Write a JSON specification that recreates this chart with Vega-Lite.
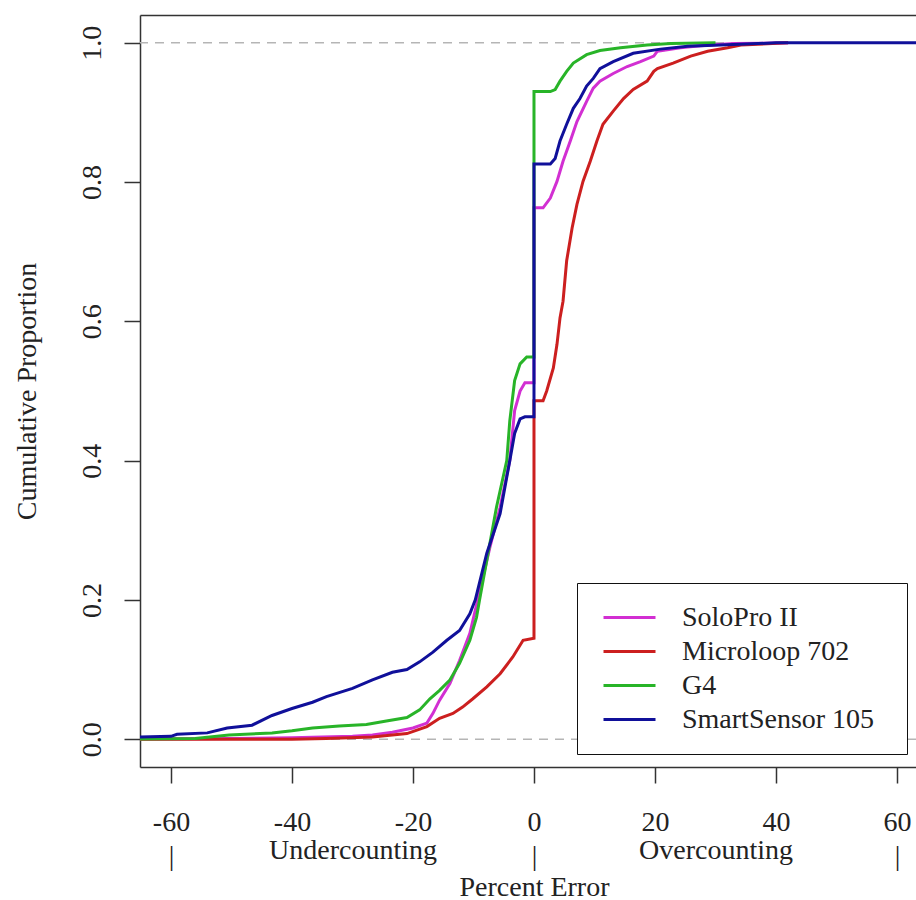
{
  "$schema": "https://vega.github.io/schema/vega-lite/v6.json",
  "width": 776,
  "height": 752,
  "autosize": "none",
  "padding": {"left": 140, "top": 15, "right": 0, "bottom": 133},
  "background": "white",
  "config": {
    "view": {"stroke": null},
    "font": "Liberation Serif",
    "axis": {"labelFont": "Liberation Serif", "titleFont": "Liberation Serif", "labelFontSize": 28, "titleFontSize": 28, "labelColor": "#222", "titleColor": "#222", "titleFontWeight": "normal", "domainColor": "#333", "tickColor": "#333", "domainWidth": 1.5, "tickWidth": 1.5, "grid": false}
  },
  "datasets": {
    "ecdf": [
      {"device":"SoloPro II","i":0,"x":-66,"p":0},
      {"device":"SoloPro II","i":1,"x":-50,"p":0.001},
      {"device":"SoloPro II","i":2,"x":-40,"p":0.002},
      {"device":"SoloPro II","i":3,"x":-30,"p":0.004},
      {"device":"SoloPro II","i":4,"x":-26.7,"p":0.006},
      {"device":"SoloPro II","i":5,"x":-23.4,"p":0.01},
      {"device":"SoloPro II","i":6,"x":-20,"p":0.016},
      {"device":"SoloPro II","i":7,"x":-17.7,"p":0.023},
      {"device":"SoloPro II","i":8,"x":-16.7,"p":0.037},
      {"device":"SoloPro II","i":9,"x":-15.6,"p":0.056},
      {"device":"SoloPro II","i":10,"x":-13.9,"p":0.08},
      {"device":"SoloPro II","i":11,"x":-12.3,"p":0.113},
      {"device":"SoloPro II","i":12,"x":-10.6,"p":0.152},
      {"device":"SoloPro II","i":13,"x":-9.3,"p":0.2},
      {"device":"SoloPro II","i":14,"x":-7.3,"p":0.275},
      {"device":"SoloPro II","i":15,"x":-5.6,"p":0.333},
      {"device":"SoloPro II","i":16,"x":-4,"p":0.4},
      {"device":"SoloPro II","i":17,"x":-3.2,"p":0.472},
      {"device":"SoloPro II","i":18,"x":-2.3,"p":0.5},
      {"device":"SoloPro II","i":19,"x":-1.5,"p":0.512},
      {"device":"SoloPro II","i":20,"x":0,"p":0.512},
      {"device":"SoloPro II","i":21,"x":0,"p":0.763},
      {"device":"SoloPro II","i":22,"x":1.5,"p":0.763},
      {"device":"SoloPro II","i":23,"x":2.7,"p":0.777},
      {"device":"SoloPro II","i":24,"x":3.8,"p":0.801},
      {"device":"SoloPro II","i":25,"x":4.8,"p":0.83},
      {"device":"SoloPro II","i":26,"x":6,"p":0.859},
      {"device":"SoloPro II","i":27,"x":7.1,"p":0.887},
      {"device":"SoloPro II","i":28,"x":8.7,"p":0.916},
      {"device":"SoloPro II","i":29,"x":9.8,"p":0.935},
      {"device":"SoloPro II","i":30,"x":10.9,"p":0.945},
      {"device":"SoloPro II","i":31,"x":13.1,"p":0.956},
      {"device":"SoloPro II","i":32,"x":15.4,"p":0.966},
      {"device":"SoloPro II","i":33,"x":17.6,"p":0.973},
      {"device":"SoloPro II","i":34,"x":19.8,"p":0.981},
      {"device":"SoloPro II","i":35,"x":20.4,"p":0.988},
      {"device":"SoloPro II","i":36,"x":24.2,"p":0.993},
      {"device":"SoloPro II","i":37,"x":27.5,"p":0.996},
      {"device":"SoloPro II","i":38,"x":33,"p":0.999},
      {"device":"SoloPro II","i":39,"x":42,"p":1.0},

      {"device":"Microloop 702","i":0,"x":-66,"p":0},
      {"device":"Microloop 702","i":1,"x":-40,"p":0},
      {"device":"Microloop 702","i":2,"x":-34.3,"p":0.001},
      {"device":"Microloop 702","i":3,"x":-26.7,"p":0.003},
      {"device":"Microloop 702","i":4,"x":-21,"p":0.008},
      {"device":"Microloop 702","i":5,"x":-17.7,"p":0.018},
      {"device":"Microloop 702","i":6,"x":-15.6,"p":0.03},
      {"device":"Microloop 702","i":7,"x":-13.4,"p":0.037},
      {"device":"Microloop 702","i":8,"x":-11.8,"p":0.046},
      {"device":"Microloop 702","i":9,"x":-10.1,"p":0.058},
      {"device":"Microloop 702","i":10,"x":-7.8,"p":0.075},
      {"device":"Microloop 702","i":11,"x":-5.6,"p":0.094},
      {"device":"Microloop 702","i":12,"x":-3.5,"p":0.118},
      {"device":"Microloop 702","i":13,"x":-1.8,"p":0.142},
      {"device":"Microloop 702","i":14,"x":0,"p":0.145},
      {"device":"Microloop 702","i":15,"x":0,"p":0.486},
      {"device":"Microloop 702","i":16,"x":1.5,"p":0.486},
      {"device":"Microloop 702","i":17,"x":2.1,"p":0.5},
      {"device":"Microloop 702","i":18,"x":3.2,"p":0.533},
      {"device":"Microloop 702","i":19,"x":3.8,"p":0.567},
      {"device":"Microloop 702","i":20,"x":4.3,"p":0.605},
      {"device":"Microloop 702","i":21,"x":4.8,"p":0.629},
      {"device":"Microloop 702","i":22,"x":5.4,"p":0.687},
      {"device":"Microloop 702","i":23,"x":6.3,"p":0.734},
      {"device":"Microloop 702","i":24,"x":7.1,"p":0.768},
      {"device":"Microloop 702","i":25,"x":8.1,"p":0.801},
      {"device":"Microloop 702","i":26,"x":9.3,"p":0.83},
      {"device":"Microloop 702","i":27,"x":10.4,"p":0.859},
      {"device":"Microloop 702","i":28,"x":11.4,"p":0.883},
      {"device":"Microloop 702","i":29,"x":13.1,"p":0.902},
      {"device":"Microloop 702","i":30,"x":14.8,"p":0.92},
      {"device":"Microloop 702","i":31,"x":16.4,"p":0.933},
      {"device":"Microloop 702","i":32,"x":18.7,"p":0.945},
      {"device":"Microloop 702","i":33,"x":19.8,"p":0.959},
      {"device":"Microloop 702","i":34,"x":20.4,"p":0.963},
      {"device":"Microloop 702","i":35,"x":23,"p":0.971},
      {"device":"Microloop 702","i":36,"x":25.9,"p":0.981},
      {"device":"Microloop 702","i":37,"x":28.7,"p":0.988},
      {"device":"Microloop 702","i":38,"x":32,"p":0.993},
      {"device":"Microloop 702","i":39,"x":34.2,"p":0.997},
      {"device":"Microloop 702","i":40,"x":42,"p":1.0},

      {"device":"G4","i":0,"x":-66,"p":0},
      {"device":"G4","i":1,"x":-56,"p":0.001},
      {"device":"G4","i":2,"x":-50.4,"p":0.006},
      {"device":"G4","i":3,"x":-43.3,"p":0.009},
      {"device":"G4","i":4,"x":-40,"p":0.012},
      {"device":"G4","i":5,"x":-36.6,"p":0.016},
      {"device":"G4","i":6,"x":-32.2,"p":0.019},
      {"device":"G4","i":7,"x":-27.7,"p":0.021},
      {"device":"G4","i":8,"x":-24.4,"p":0.026},
      {"device":"G4","i":9,"x":-21,"p":0.031},
      {"device":"G4","i":10,"x":-18.9,"p":0.042},
      {"device":"G4","i":11,"x":-17.2,"p":0.058},
      {"device":"G4","i":12,"x":-15.6,"p":0.07},
      {"device":"G4","i":13,"x":-13.9,"p":0.085},
      {"device":"G4","i":14,"x":-12.3,"p":0.109},
      {"device":"G4","i":15,"x":-10.6,"p":0.142},
      {"device":"G4","i":16,"x":-9.5,"p":0.175},
      {"device":"G4","i":17,"x":-9,"p":0.2},
      {"device":"G4","i":18,"x":-6.2,"p":0.333},
      {"device":"G4","i":19,"x":-4.5,"p":0.4},
      {"device":"G4","i":20,"x":-4,"p":0.457},
      {"device":"G4","i":21,"x":-3.2,"p":0.515},
      {"device":"G4","i":22,"x":-2.3,"p":0.539},
      {"device":"G4","i":23,"x":-1.2,"p":0.549},
      {"device":"G4","i":24,"x":0,"p":0.549},
      {"device":"G4","i":25,"x":0,"p":0.93},
      {"device":"G4","i":26,"x":2.7,"p":0.93},
      {"device":"G4","i":27,"x":3.5,"p":0.933},
      {"device":"G4","i":28,"x":4.3,"p":0.945},
      {"device":"G4","i":29,"x":5.4,"p":0.959},
      {"device":"G4","i":30,"x":6.5,"p":0.971},
      {"device":"G4","i":31,"x":8.7,"p":0.983},
      {"device":"G4","i":32,"x":10.9,"p":0.989},
      {"device":"G4","i":33,"x":14.3,"p":0.993},
      {"device":"G4","i":34,"x":18.7,"p":0.997},
      {"device":"G4","i":35,"x":22.6,"p":0.999},
      {"device":"G4","i":36,"x":30,"p":1.0},

      {"device":"SmartSensor 105","i":0,"x":-66,"p":0.003},
      {"device":"SmartSensor 105","i":1,"x":-60,"p":0.004},
      {"device":"SmartSensor 105","i":2,"x":-59,"p":0.007},
      {"device":"SmartSensor 105","i":3,"x":-54,"p":0.009},
      {"device":"SmartSensor 105","i":4,"x":-50.7,"p":0.016},
      {"device":"SmartSensor 105","i":5,"x":-46.6,"p":0.02},
      {"device":"SmartSensor 105","i":6,"x":-43.3,"p":0.034},
      {"device":"SmartSensor 105","i":7,"x":-40,"p":0.044},
      {"device":"SmartSensor 105","i":8,"x":-36.6,"p":0.053},
      {"device":"SmartSensor 105","i":9,"x":-34.3,"p":0.061},
      {"device":"SmartSensor 105","i":10,"x":-30,"p":0.073},
      {"device":"SmartSensor 105","i":11,"x":-26.7,"p":0.085},
      {"device":"SmartSensor 105","i":12,"x":-23.4,"p":0.096},
      {"device":"SmartSensor 105","i":13,"x":-21,"p":0.1},
      {"device":"SmartSensor 105","i":14,"x":-18.9,"p":0.111},
      {"device":"SmartSensor 105","i":15,"x":-16.7,"p":0.125},
      {"device":"SmartSensor 105","i":16,"x":-14.4,"p":0.142},
      {"device":"SmartSensor 105","i":17,"x":-12.3,"p":0.156},
      {"device":"SmartSensor 105","i":18,"x":-10.6,"p":0.18},
      {"device":"SmartSensor 105","i":19,"x":-9.7,"p":0.2},
      {"device":"SmartSensor 105","i":20,"x":-7.8,"p":0.267},
      {"device":"SmartSensor 105","i":21,"x":-5.6,"p":0.324},
      {"device":"SmartSensor 105","i":22,"x":-4,"p":0.4},
      {"device":"SmartSensor 105","i":23,"x":-3.2,"p":0.439},
      {"device":"SmartSensor 105","i":24,"x":-2.3,"p":0.46},
      {"device":"SmartSensor 105","i":25,"x":-1.5,"p":0.463},
      {"device":"SmartSensor 105","i":26,"x":0,"p":0.463},
      {"device":"SmartSensor 105","i":27,"x":0,"p":0.826},
      {"device":"SmartSensor 105","i":28,"x":2.7,"p":0.826},
      {"device":"SmartSensor 105","i":29,"x":3.5,"p":0.834},
      {"device":"SmartSensor 105","i":30,"x":4.3,"p":0.859},
      {"device":"SmartSensor 105","i":31,"x":5.4,"p":0.883},
      {"device":"SmartSensor 105","i":32,"x":6.5,"p":0.906},
      {"device":"SmartSensor 105","i":33,"x":7.6,"p":0.92},
      {"device":"SmartSensor 105","i":34,"x":8.7,"p":0.938},
      {"device":"SmartSensor 105","i":35,"x":9.8,"p":0.949},
      {"device":"SmartSensor 105","i":36,"x":10.9,"p":0.963},
      {"device":"SmartSensor 105","i":37,"x":13.1,"p":0.973},
      {"device":"SmartSensor 105","i":38,"x":16.4,"p":0.985},
      {"device":"SmartSensor 105","i":39,"x":20.9,"p":0.991},
      {"device":"SmartSensor 105","i":40,"x":25.4,"p":0.995},
      {"device":"SmartSensor 105","i":41,"x":34,"p":0.998},
      {"device":"SmartSensor 105","i":42,"x":40,"p":1.0},
      {"device":"SmartSensor 105","i":43,"x":66,"p":1.0}
    ],
    "refs": [{"p": 0}, {"p": 1}]
  },
  "resolve": {"axis": {"x": "independent"}},
  "layer": [
    {
      "data": {"name": "refs"},
      "mark": {"type": "rule", "color": "#b5b5b5", "strokeWidth": 1.5, "strokeDash": [9, 7]},
      "encoding": {
        "y": {"field": "p", "type": "quantitative", "scale": {"domain": [-0.04, 1.04], "nice": false, "zero": false}}
      }
    },
    {
      "data": {"name": "ecdf"},
      "mark": {"type": "line", "strokeWidth": 3, "clip": true},
      "encoding": {
        "x": {"field": "x", "type": "quantitative",
          "scale": {"domain": [-65.12, 63.14], "nice": false, "zero": false},
          "axis": {"orient": "bottom", "values": [-60, -40, -20, 0, 20, 40, 60], "tickSize": 16, "labelPadding": 47, "labelBaseline": "alphabetic", "labelFlush": false, "labelOverlap": false,
            "labelExpr": "datum.value < 0 ? '-' + abs(datum.value) : '' + datum.value",
            "title": "Percent Error", "titleBaseline": "alphabetic", "titleY": 128, "titleX": 394, "titleAnchor": "middle", "titleAlign": "center"}},
        "y": {"field": "p", "type": "quantitative",
          "scale": {"domain": [-0.04, 1.04], "nice": false, "zero": false},
          "axis": {"values": [0, 0.2, 0.4, 0.6, 0.8, 1.0], "format": ".1f", "tickSize": 16, "labelAngle": -90, "labelAlign": "center", "labelBaseline": "alphabetic", "labelPadding": 24, "labelFlush": false, "labelOverlap": false,
            "title": "Cumulative Proportion", "titleAngle": -90, "titleBaseline": "alphabetic", "titleAlign": "center", "titleX": -105, "titleY": 376}},
        "color": {"field": "device", "type": "nominal",
          "scale": {"domain": ["SoloPro II", "Microloop 702", "G4", "SmartSensor 105"], "range": ["#d22fd2", "#cc1f1f", "#28b428", "#10109a"]},
          "legend": {"orient": "none", "legendX": 437, "legendY": 568, "title": " ", "titleOrient": "right", "titleFontSize": 2, "titlePadding": 13, "strokeColor": "#111", "fillColor": "white", "padding": 20,
            "symbolType": "M-0.615,0H3.385", "symbolSize": 676, "symbolStrokeWidth": 3, "symbolFillColor": "transparent",
            "labelFont": "Liberation Serif", "labelFontSize": 28, "labelColor": "#222", "labelOffset": 56, "rowPadding": 5, "labelLimit": 400}},
        "order": {"field": "i", "type": "quantitative"}
      }
    },
    {
      "data": {"name": "ecdf"},
      "mark": {"type": "point", "opacity": 0},
      "encoding": {
        "x": {"field": "x", "type": "quantitative",
          "axis": {"orient": "bottom", "values": [-60, -30, 0, 30, 60], "ticks": false, "tickSize": 0, "domain": false, "labelBaseline": "alphabetic", "labelFlush": false, "labelOverlap": false,
            "labelExpr": "datum.value == -30 ? 'Undercounting' : datum.value == 30 ? 'Overcounting' : '|'",
            "labelPadding": {"condition": {"test": "abs(datum.value) == 30", "value": 91}, "value": 97},
            "title": null}},
        "y": {"field": "p", "type": "quantitative"}
      }
    },
    {
      "data": {"name": "ecdf"},
      "mark": {"type": "point", "opacity": 0},
      "encoding": {
        "x": {"field": "x", "type": "quantitative",
          "axis": {"orient": "top", "ticks": false, "labels": false, "domain": true, "title": null}},
        "y": {"field": "p", "type": "quantitative"}
      }
    }
  ]
}
